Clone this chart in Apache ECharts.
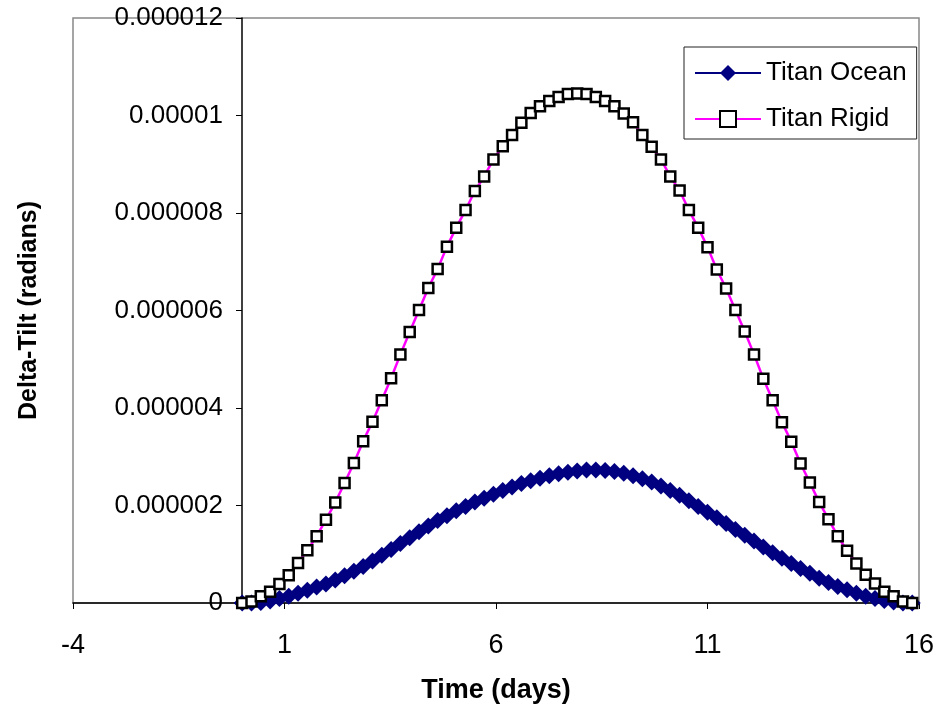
<!DOCTYPE html>
<html>
<head>
<meta charset="utf-8">
<title>Delta-Tilt</title>
<script src="https://cdn.jsdelivr.net/npm/echarts@6/dist/echarts.min.js"></script>
<style>
  html, body { margin: 0; padding: 0; background: #fff; }
  #chart { width: 948px; height: 710px; }
</style>
</head>
<body>
<div id="chart"></div>
<script>
  // time of each sample (days)
  const timeDays = [0, 0.22, 0.44, 0.66, 0.88, 1.1, 1.32, 1.54, 1.76, 1.98, 2.2, 2.42, 2.64, 2.86, 3.08, 3.3,
    3.52, 3.74, 3.96, 4.18, 4.4, 4.62, 4.84, 5.06, 5.28, 5.5, 5.72, 5.94, 6.16, 6.38, 6.6, 6.82, 7.04, 7.26,
    7.48, 7.7, 7.92, 8.14, 8.36, 8.58, 8.8, 9.02, 9.24, 9.46, 9.68, 9.9, 10.12, 10.34, 10.56, 10.78, 11,
    11.22, 11.44, 11.66, 11.88, 12.1, 12.32, 12.54, 12.76, 12.98, 13.2, 13.42, 13.64, 13.86, 14.08, 14.3,
    14.52, 14.74, 14.96, 15.18, 15.4, 15.62, 15.84];

  // delta-tilt in micro-radians (1e-6 rad)
  const titanOcean = [0, 0, 0.01, 0.04, 0.09, 0.14, 0.2, 0.26, 0.33, 0.39, 0.47, 0.56, 0.65, 0.75, 0.86, 0.98,
    1.1, 1.22, 1.34, 1.46, 1.58, 1.69, 1.79, 1.89, 1.98, 2.07, 2.15, 2.23, 2.31, 2.38, 2.45, 2.51, 2.56, 2.61,
    2.65, 2.68, 2.71, 2.73, 2.73, 2.72, 2.7, 2.66, 2.61, 2.55, 2.48, 2.4, 2.31, 2.21, 2.1, 1.98, 1.86,
    1.75, 1.63, 1.51, 1.39, 1.27, 1.15, 1.03, 0.92, 0.81, 0.71, 0.61, 0.51, 0.42, 0.34, 0.27,
    0.2, 0.14, 0.09, 0.05, 0.02, 0, 0];

  const titanRigid = [0, 0.03, 0.14, 0.23, 0.39, 0.57, 0.82, 1.08, 1.37, 1.71, 2.06, 2.46, 2.87, 3.32, 3.72, 4.16,
    4.61, 5.1, 5.56, 6.01, 6.46, 6.85, 7.31, 7.7, 8.06, 8.45, 8.75, 9.1, 9.37, 9.6, 9.85, 10.05, 10.19, 10.3,
    10.38, 10.44, 10.45, 10.44, 10.38, 10.3, 10.19, 10.04, 9.86, 9.6, 9.36, 9.1, 8.75, 8.46, 8.06, 7.7, 7.3,
    6.84, 6.45, 6.01, 5.57, 5.1, 4.6, 4.16, 3.71, 3.31, 2.86, 2.47, 2.07, 1.72, 1.37, 1.07,
    0.81, 0.58, 0.4, 0.23, 0.14, 0.03, 0];

  const seriesNames = ['Titan Ocean', 'Titan Rigid'];

  const font = '"Liberation Sans", Arial, sans-serif';

  function pairs(ys) {
    return timeDays.map((t, i) => [t, ys[i]]);
  }

  let option = {
    backgroundColor: '#fff',
    animation: false,
    grid: {
      left: 73,
      right: 29,
      top: 18,
      bottom: 107,
      outerBoundsMode: 'none',
      containLabel: false,
      show: true,
      borderColor: '#888',
      borderWidth: 1.5
    },
    legend: {
      data: seriesNames,
      orient: 'vertical',
      left: 684,
      top: 47,
      padding: [13, 10, 7, 10],
      itemWidth: 66,
      itemHeight: 20,
      itemGap: 20,
      borderColor: '#222',
      borderWidth: 1,
      textStyle: {
        fontFamily: font,
        fontSize: 26,
        color: '#000'
      }
    },
    xAxis: {
      type: 'value',
      min: -4,
      max: 16,
      interval: 5,
      name: 'Time (days)',
      nameLocation: 'middle',
      nameGap: 74,
      nameTextStyle: {
        fontFamily: font,
        fontSize: 27,
        fontWeight: 'bold',
        color: '#000'
      },
      axisLine: { lineStyle: { color: '#000', width: 1.5 } },
      axisTick: { length: 6, lineStyle: { color: '#000' } },
      axisLabel: {
        margin: 29,
        fontFamily: font,
        fontSize: 27,
        color: '#000'
      },
      splitLine: { show: false }
    },
    yAxis: {
      type: 'value',
      min: 0,
      max: 12,
      interval: 2,
      // value axis crosses the time axis at day 0 (4 days of 42.3px right of the plot edge)
      offset: -169,
      name: 'Delta-Tilt (radians)',
      nameLocation: 'middle',
      nameGap: 200,
      nameTextStyle: {
        fontFamily: font,
        fontSize: 25,
        fontWeight: 'bold',
        color: '#000'
      },
      axisLine: { onZero: false, lineStyle: { color: '#000', width: 1.5 } },
      axisTick: { length: 6, lineStyle: { color: '#000' } },
      axisLabel: {
        margin: 19,
        fontFamily: font,
        fontSize: 26,
        color: '#000',
        formatter: function (v) {
          if (v === 0) return '0';
          return (v * 1e-6).toFixed(6).replace(/0+$/, '');
        }
      },
      splitLine: { show: false }
    },
    series: [
      {
        name: seriesNames[0],
        type: 'line',
        symbol: 'diamond',
        symbolSize: 17,
        lineStyle: { color: '#000080', width: 2 },
        itemStyle: { color: '#000080' },
        data: pairs(titanOcean)
      },
      {
        name: seriesNames[1],
        type: 'line',
        symbol: 'rect',
        symbolSize: 10,
        lineStyle: { color: '#ff00ff', width: 2.5 },
        itemStyle: { color: '#fff', borderColor: '#000', borderWidth: 2.5 },
        data: pairs(titanRigid)
      }
    ]
  };

  let echartDom = echarts.init(document.getElementById('chart'));
  echartDom.setOption(option);
  window.addEventListener('resize', function () {
    echartDom.resize();
  }, false);
</script>
</body>
</html>
